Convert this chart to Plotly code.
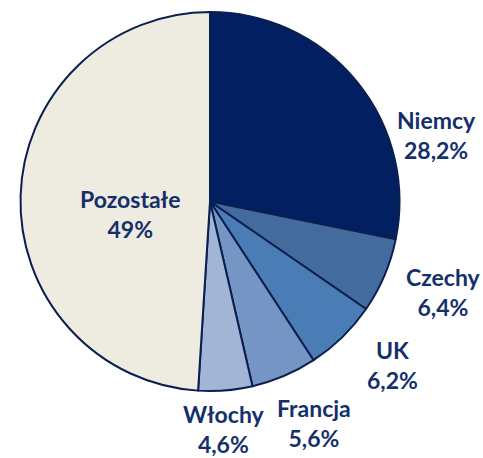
import plotly.graph_objects as go

labels = ["Niemcy", "Czechy", "UK", "Francja", "Włochy", "Pozostałe"]
values = [28.2, 6.4, 6.2, 5.6, 4.6, 49]
colors = ["#022061", "#436B9E", "#4A7CB6", "#7595C5", "#A3B5D6", "#EEEBE0"]

W, H = 483, 458
# label centre positions in pixels (centre of two-line label)
label_px = [(436, 135), (443, 292), (392, 365), (314, 423), (224, 429), (130, 214)]

def fmt(v):
    return f"{v:g}".replace(".", ",") + "%"

fig = go.Figure(go.Pie(
    labels=labels,
    values=values,
    sort=False,
    direction="clockwise",
    rotation=0,
    marker=dict(colors=colors, line=dict(color="#0B1F4F", width=2)),
    textinfo="none",
    hoverinfo="label+percent",
    domain=dict(x=[20 / W, 400 / W], y=[1 - 391 / H, 1 - 12 / H]),
    showlegend=False,
))

for lab, v, (px, py) in zip(labels, values, label_px):
    fig.add_annotation(
        x=px / W, y=1 - py / H, xref="paper", yref="paper",
        xanchor="center", yanchor="middle",
        text=f"<b>{lab}<br>{fmt(v)}</b>",
        showarrow=False,
        font=dict(family="Lato, Open Sans, sans-serif", size=23, color="#14306B"),
        align="center",
    )

fig.update_layout(
    width=W, height=H,
    margin=dict(l=0, r=0, t=0, b=0),
    paper_bgcolor="white",
    plot_bgcolor="white",
)

fig.write_html("out.html", config={"displayModeBar": False},
               post_script="document.body.style.margin='0';")
